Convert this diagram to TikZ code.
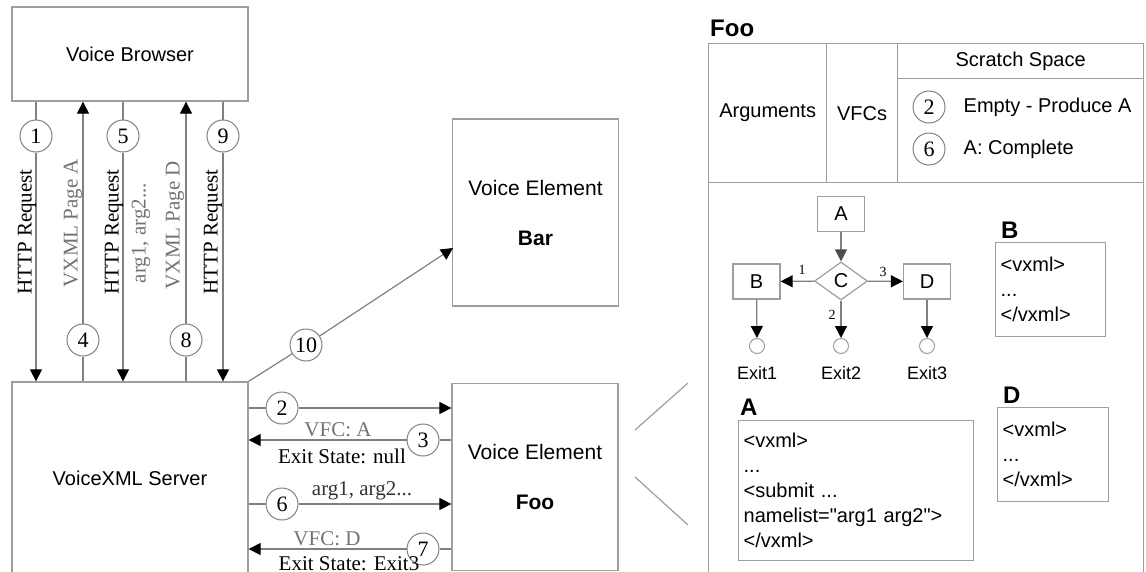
\documentclass[tikz,border=0pt]{standalone}
\usepackage{fontspec}
\setmainfont{Liberation Serif}
\setsansfont{Liberation Sans}[Ligatures=TeXOff]
\usetikzlibrary{arrows.meta,shapes.geometric}

\definecolor{boxgray}{gray}{0.62}
\definecolor{linegray}{gray}{0.5}
\definecolor{labgray}{gray}{0.45}

\tikzset{
  box/.style={draw=boxgray, line width=1.3pt, inner sep=0pt, align=center,
    font=\sffamily\fontsize{20}{25}\selectfont},
  elem/.style={box, minimum width=166pt, minimum height=187pt,
    font=\sffamily\fontsize{21}{25}\selectfont},
  cell/.style={box, anchor=north west},
  code/.style={draw=boxgray, line width=1.3pt, anchor=north west, align=left,
    inner xsep=5pt, inner ysep=0pt, font=\sffamily\fontsize{20}{25}\selectfont},
  head/.style={inner sep=0pt, anchor=base west, font=\sffamily\bfseries\fontsize{24}{24}\selectfont},
  num/.style={circle, draw=linegray, line width=1pt, fill=white, minimum size=32pt,
    inner sep=0pt, font=\fontsize{22}{22}\selectfont},
  lab/.style={inner sep=0pt, font=\fontsize{21}{21}\selectfont},
  small/.style={inner sep=0pt, font=\fontsize{14}{14}\selectfont},
  fbox/.style={draw=boxgray, line width=1.2pt, minimum width=47pt, minimum height=35pt,
    inner sep=0pt, font=\sffamily\fontsize{20}{20}\selectfont},
  exit/.style={circle, draw=boxgray, line width=1pt, minimum size=15pt, inner sep=0pt},
  wire/.style={draw=linegray, line width=1.2pt},
  arr/.style={wire, -{Triangle[length=12pt,width=12pt,color=black]}},
}

\begin{document}
\begin{tikzpicture}[x=1pt,y=-1pt]
  \useasboundingbox (0,0) rectangle (1146,571);
  \clip (0,0) rectangle (1146,571);

  % browser, server and the two voice elements
  \node[box, minimum width=236pt, minimum height=94pt] (browser) at (130,54) {Voice Browser};
  \node[box, minimum width=236pt, minimum height=192pt] (server) at (130,478) {VoiceXML Server};
  \node[elem] (bar) at (535.5,212.5) {Voice Element\\[25pt]\textbf{Bar}};
  \node[elem] (foo) at (535,477) {Voice Element\\[25pt]\textbf{Foo}};
  \coordinate (barin) at (453,248);

  % browser <-> server
  \node[num] (n1) at (36,136) {1};
  \node[num] (n5) at (123,136) {5};
  \node[num] (n9) at (223,136) {9};
  \node[num] (n4) at (83,340) {4};
  \node[num] (n8) at (186,340) {8};
  \foreach \n in {n1,n5,n9} {
    \draw[wire] (\n |- browser.south) -- (\n);
    \draw[arr] (\n) -- (\n |- server.north);
  }
  \foreach \n in {n4,n8} {
    \draw[wire] (\n |- server.north) -- (\n);
    \draw[arr] (\n) -- (\n |- browser.south);
  }
  \node[lab, rotate=90] (l1) at (27,232) {HTTP Request};
  \node[lab, rotate=90, text=labgray] (l4) at (73,223) {VXML Page A};
  \node[lab, rotate=90] (l5) at (114,232) {HTTP Request};
  \node[lab, rotate=90, text=labgray] (l5b) at (141,233) {arg1, arg2...};
  \node[lab, rotate=90, text=labgray] (l8) at (175,225) {VXML Page D};
  \node[lab, rotate=90] (l9) at (213,232) {HTTP Request};

  % server <-> foo
  \node[num] (n2) at (282,408) {2};
  \node[num] (n3) at (423,440) {3};
  \node[num] (n6) at (282,504) {6};
  \node[num] (n7) at (423,549) {7};
  \foreach \n in {n2,n6} {
    \draw[wire] (server.east |- \n) -- (\n);
    \draw[arr] (\n) -- (foo.west |- \n);
  }
  \foreach \n in {n3,n7} {
    \draw[wire] (foo.west |- \n) -- (\n);
    \draw[arr] (\n) -- (server.east |- \n);
  }
  \node[lab, text=labgray] (l3a) at (338,430) {VFC: A};
  \node[lab] (l3b) at (342,456) {Exit State: null};
  \node[lab, text=black!80] (l6) at (362,491) {arg1, arg2...};
  \node[lab, text=labgray] (l7a) at (327,539) {VFC: D};
  \node[lab] (l7b) at (349,564) {Exit State: Exit3};

  % server -> bar
  \node[num] (n10) at (306,345) {10};
  \draw[wire] (server.north east) -- (n10);
  \draw[arr] (n10) -- (barin);

  % zoom lines
  \draw[wire, draw=boxgray] (635,430) -- (688,383);
  \draw[wire, draw=boxgray] (635,477) -- (688,525);

  % Foo panel
  \node[head] (foohead) at (710,36) {Foo};
  \node[cell, minimum width=118pt, minimum height=139pt] (args) at (708,43) {Arguments};
  \node[cell, minimum width=71pt, minimum height=139pt] (vfcs) at (826,43) {VFCs};
  \node[cell, minimum width=246pt, minimum height=35pt] (scratch) at (897,43) {Scratch Space};
  \node[cell, minimum width=246pt, minimum height=104pt] (scratchbody) at (897,78) {};
  \node[cell, minimum width=435pt, minimum height=420pt] (panel) at (708,182) {};
  \node[num] (s2) at (929,107) {2};
  \node[num] (s6) at (929,149) {6};
  \node[box, draw=none, anchor=west] (s2t) at (963,107) {Empty - Produce A};
  \node[box, draw=none, anchor=west] (s6t) at (963,149) {A: Complete};

  % flow inside Foo
  \node[fbox] (fa) at (841,214) {A};
  \node[diamond, draw=boxgray, line width=1.2pt, minimum width=53pt, minimum height=38pt,
    inner sep=0pt, font=\sffamily\fontsize{20}{20}\selectfont] (fc) at (841,281) {C};
  \node[fbox] (fb) at (756.5,281.5) {B};
  \node[fbox] (fd) at (927,281.5) {D};
  \node[exit] (e1) at (757,346) {};
  \node[exit] (e2) at (841,346) {};
  \node[exit] (e3) at (927,346) {};
  \node[box, draw=none, font=\sffamily\fontsize{18}{18}\selectfont] (e1t) at (757,373) {Exit1};
  \node[box, draw=none, font=\sffamily\fontsize{18}{18}\selectfont] (e2t) at (841,373) {Exit2};
  \node[box, draw=none, font=\sffamily\fontsize{18}{18}\selectfont] (e3t) at (927,373) {Exit3};
  \draw[wire, -{Triangle[length=12pt,width=12pt,color=black!70]}] (fa) -- (fc);
  \draw[arr] (fc) -- (fb);
  \draw[arr] (fc) -- (fd);
  \draw[arr] (fc) -- (e2);
  \draw[arr] (fb) -- (e1);
  \draw[arr] (fd) -- (e3);
  \node[small] (c1) at (802,270) {1};
  \node[small] (c3) at (883,272) {3};
  \node[small] (c2) at (832,315) {2};

  % pages
  \node[head] (hb) at (1001,238) {B};
  \node[code, text width=100pt, minimum height=94pt] (pb) at (995,242)
    {\textless vxml\textgreater\\...\\\textless/vxml\textgreater};
  \node[head] (hd) at (1003,403) {D};
  \node[code, text width=101pt, minimum height=94pt] (pd) at (997,407)
    {\textless vxml\textgreater\\...\\\textless/vxml\textgreater};
  \node[head] (ha) at (740,415) {A};
  \node[code, text width=225pt, minimum height=140pt] (pa) at (738,420)
    {\textless vxml\textgreater\\...\\\textless submit ...\\namelist="arg1 arg2"\textgreater\\\textless/vxml\textgreater};
\end{tikzpicture}
\end{document}
